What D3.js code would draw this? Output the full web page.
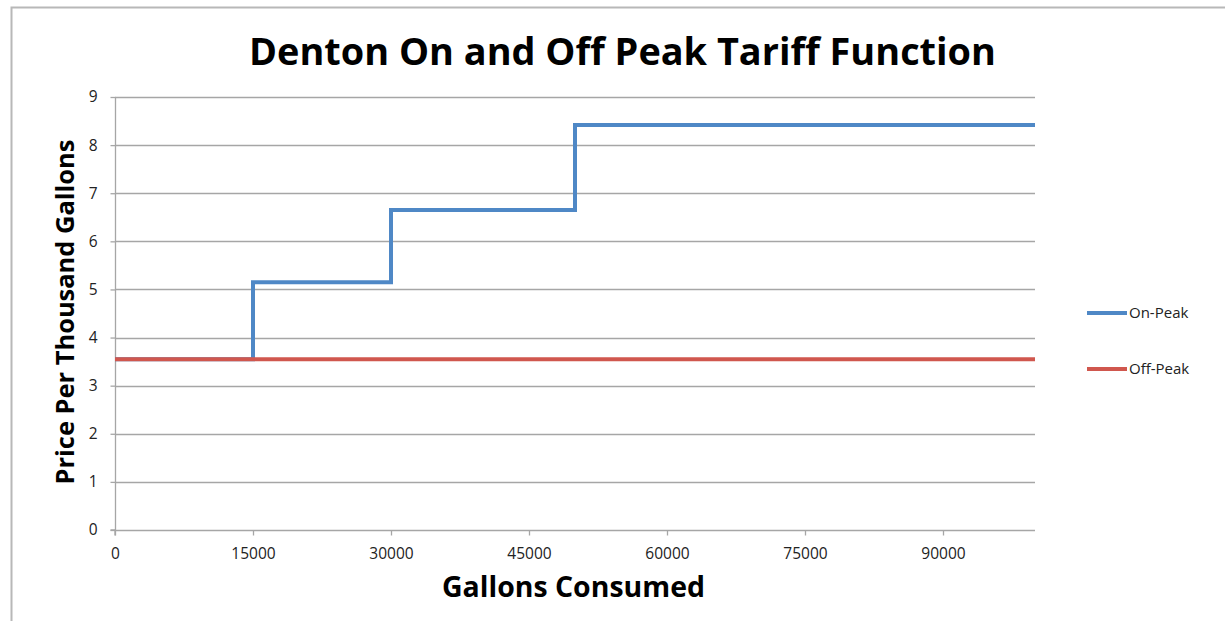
<!DOCTYPE html>
<html><head><meta charset="utf-8">
<script src="https://cdn.jsdelivr.net/npm/d3@7"></script>
<style>body{margin:0;background:#fff}svg{display:block}</style>
</head><body>
<svg id="c" width="1225" height="621"></svg>
<script>
const titleText = "Denton On and Off Peak Tariff Function";
const xTitle = "Gallons Consumed";
const yTitle = "Price Per Thousand Gallons";
const xTicks = [0, 15000, 30000, 45000, 60000, 75000, 90000];
const yTicks = [0,1,2,3,4,5,6,7,8,9];
const seriesNames = ["On-Peak", "Off-Peak"];
const seriesColors = ["#4F88C6", "#D0574E"];
const onPeakX = [0, 15000, 30000, 50000, 100000];
const onPeakY = [3.55, 5.15, 6.65, 8.42, 8.42];
const offPeakX = [0, 100000];
const offPeakY = [3.55, 3.55];

const svg = d3.select("#c");
const font = "'Open Sans', 'Liberation Sans', sans-serif";
const M = {l:115, r:1035, t:97, b:530};
const x = d3.scaleLinear().domain([0,100000]).range([M.l, M.r]);
const y = d3.scaleLinear().domain([0,9]).range([M.b, M.t]);

// outer border
svg.append("path").attr("d","M11.5,621 V7.5 H1225").attr("fill","none").attr("stroke","#B8B8B8").attr("stroke-width",2);

// gridlines
svg.append("g").selectAll("line").data(yTicks.filter(d=>d>0)).join("line")
  .attr("x1",M.l).attr("x2",M.r).attr("y1",d=>Math.round(y(d))+0.5).attr("y2",d=>Math.round(y(d))+0.5)
  .attr("stroke","#A6A6A6").attr("stroke-width",1.3);

// y axis
const ya = svg.append("g").attr("transform",`translate(${M.l+0.5},0)`)
  .call(d3.axisLeft(y).tickValues(yTicks).tickSize(5).tickPadding(13).tickFormat(d3.format("d")));
// x axis
const xa = svg.append("g").attr("transform",`translate(0,${M.b+0.5})`)
  .call(d3.axisBottom(x).tickValues(xTicks).tickSize(5).tickPadding(12).tickFormat(d3.format("d")));
[ya,xa].forEach(a=>{
  a.attr("font-size",null);
  a.selectAll("path.domain").attr("stroke","#A6A6A6").attr("stroke-width",1.3);
  a.selectAll(".tick line").attr("stroke","#A6A6A6").attr("stroke-width",1.3);
  a.selectAll("text").attr("font-family",font).style("font-size","15.5px").attr("fill","#222");
});
ya.select("path.domain").attr("d",`M-5,${M.b}H0V${M.t}`);
xa.select("path.domain").attr("d",`M${M.l},5V0H${M.r}`);

// series
const line = d3.line().curve(d3.curveStepAfter);
const onPts = onPeakX.map((v,i)=>[x(v), y(onPeakY[i])]);
const offPts = offPeakX.map((v,i)=>[x(v), y(offPeakY[i])]);
svg.append("path").attr("d", line(onPts)).attr("fill","none").attr("stroke",seriesColors[0]).attr("stroke-width",4);
svg.append("path").attr("d", line(offPts)).attr("fill","none").attr("stroke",seriesColors[1]).attr("stroke-width",4);

// legend
const legY = [313, 369];
seriesNames.forEach((n,i)=>{
  svg.append("line").attr("x1",1087).attr("x2",1127).attr("y1",legY[i]).attr("y2",legY[i])
    .attr("stroke",seriesColors[i]).attr("stroke-width",4);
  svg.append("text").attr("x",1129).attr("y",legY[i]+5).text(n)
    .attr("font-family",font).style("font-size","15px").attr("fill","#222");
});

function fit(sel, w){
  const cur = sel.node().getComputedTextLength();
  const fs = parseFloat(sel.attr("font-size"));
  sel.attr("font-size", fs*w/cur);
}
// titles
const t = svg.append("text").attr("x",622.5).attr("y",65).attr("text-anchor","middle")
  .attr("font-family",font).attr("font-weight","bold").attr("font-size",32).attr("fill","#000").text(titleText);
fit(t, 747);
const xt = svg.append("text").attr("x",573.5).attr("y",597).attr("text-anchor","middle")
  .attr("font-family",font).attr("font-weight","bold").attr("font-size",24).attr("fill","#000").text(xTitle);
fit(xt, 263);
const yt = svg.append("text").attr("transform","translate(74,312) rotate(-90)").attr("text-anchor","middle")
  .attr("font-family",font).attr("font-weight","bold").attr("font-size",24).attr("fill","#000").text(yTitle);
fit(yt, 345);
</script>
</body></html>
